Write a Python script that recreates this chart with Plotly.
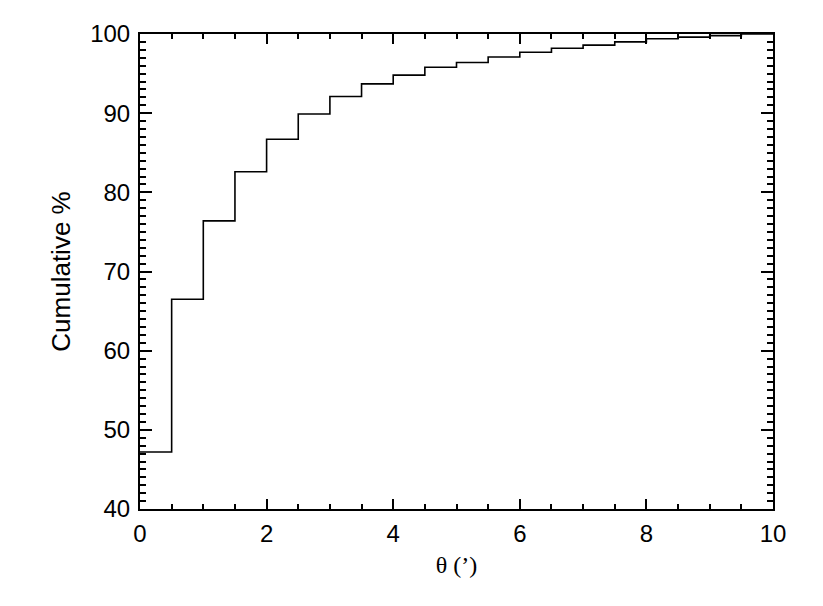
import plotly.graph_objects as go

# Bin left edges (arcmin) and cumulative percentages
bin_edges = [0.0, 0.5, 1.0, 1.5, 2.0, 2.5, 3.0, 3.5, 4.0, 4.5,
             5.0, 5.5, 6.0, 6.5, 7.0, 7.5, 8.0, 8.5, 9.0, 9.5, 10.0]
cumulative = [47.2, 66.5, 76.4, 82.6, 86.7, 89.9, 92.1, 93.7, 94.8, 95.8,
              96.4, 97.1, 97.7, 98.2, 98.6, 99.0, 99.4, 99.6, 99.8, 100.0]

x_tickvals = [0, 2, 4, 6, 8, 10]
y_tickvals = [40, 50, 60, 70, 80, 90, 100]

fig = go.Figure()
fig.add_trace(go.Scatter(
    x=bin_edges,
    y=cumulative + [cumulative[-1]],
    mode="lines",
    line=dict(shape="hv", color="black", width=1.6),
    showlegend=False,
    cliponaxis=False,
))

axis_common = dict(
    showgrid=False, zeroline=False,
    showline=True, linecolor="black", linewidth=2,
    mirror="allticks", ticks="inside", tickcolor="black", tickwidth=1.6,
    tickfont=dict(family="Liberation Sans, Arial, sans-serif", size=24, color="black"),
)

fig.update_xaxes(
    range=[0, 10], tickvals=x_tickvals, ticklen=10,
    minor=dict(dtick=0.5, ticks="inside", ticklen=5, tickcolor="black", tickwidth=1.6),
    title=dict(text="θ (’)", font=dict(family="Liberation Serif, Times New Roman, serif", size=24, color="black"), standoff=10),
    ticklabelstandoff=2,
    **axis_common,
)
fig.update_yaxes(
    range=[40, 100], tickvals=y_tickvals, ticklen=12,
    minor=dict(dtick=1, ticks="inside", ticklen=6, tickcolor="black", tickwidth=1.6),
    title=dict(text="Cumulative %", font=dict(family="Liberation Sans, Arial, sans-serif", size=26, color="black"), standoff=12),
    ticklabelstandoff=3,
    **axis_common,
)

# page body has an 8px margin; offset figure so the plot area lands at x 140-773, y 31-509
fig.update_layout(
    width=815, height=598,
    margin=dict(l=132, r=50, t=23, b=97),
    paper_bgcolor="white", plot_bgcolor="white",
)

fig.write_html("out.html")
